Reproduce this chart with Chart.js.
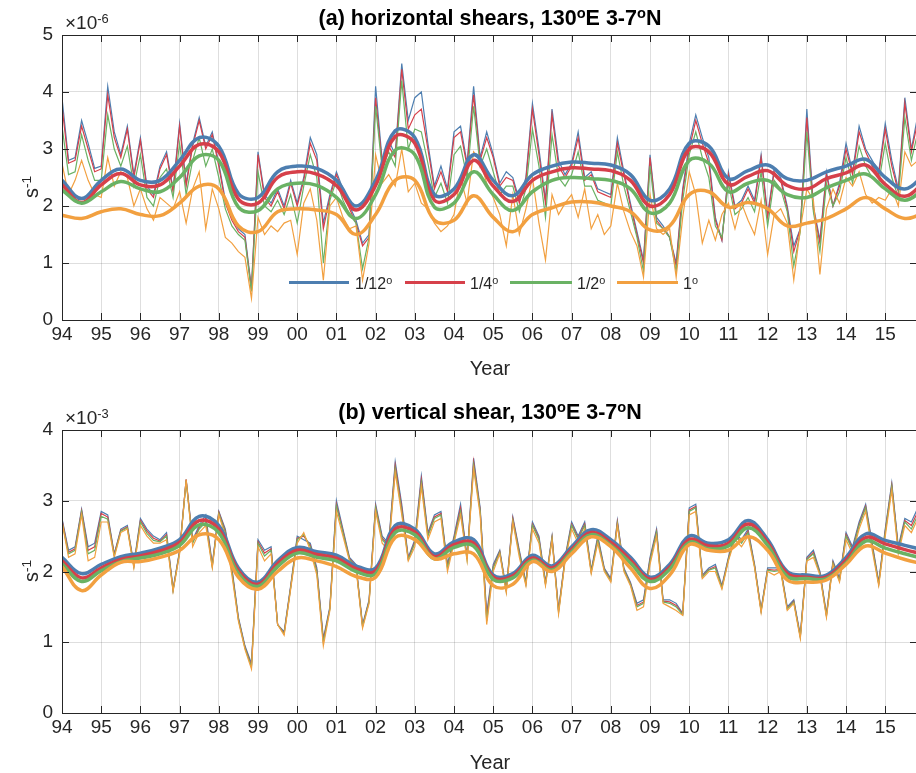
<!DOCTYPE html>
<html>
<head>
<meta charset="utf-8">
<script src="https://cdn.jsdelivr.net/npm/chart.js@4.4.1/dist/chart.umd.min.js"></script>
<style>
  html, body { margin: 0; padding: 0; background: #fff; }
  body { width: 916px; height: 773px; overflow: hidden; position: relative;
         font-family: 'Liberation Sans', Arial, sans-serif; color: #262626; }
  .panel { position: absolute; left: 0; width: 920px; }
  .ttl { position: absolute; transform: translateX(-50%); font-weight: bold; font-size: 21.5px; line-height: 22px; white-space: nowrap; color: #000; }
  .expo { position: absolute; font-size: 19px; line-height: 19px; white-space: nowrap; }
  .ylab { position: absolute; font-size: 20px; line-height: 20px; white-space: nowrap; transform: translate(-50%, -50%) rotate(-90deg); }
  .xlab { position: absolute; font-size: 20px; line-height: 20px; transform: translateX(-50%); }
  .lgline { position: absolute; height: 3px; }
  .lgtxt { position: absolute; font-size: 16px; line-height: 16px; white-space: nowrap; }
  sup { font-size: 0.68em; vertical-align: 0.5em; line-height: 0; }
</style>
</head>
<body>
<div class="panel" style="top:0; height:385px"><canvas id="chart-a" width="920" height="385"></canvas></div>
<div class="panel" style="top:394px; height:379px"><canvas id="chart-b" width="920" height="379"></canvas></div>

<div class="ttl" style="left:490px; top:7px">(a) horizontal shears, 130<sup>o</sup>E 3-7<sup>o</sup>N</div>
<div class="expo" style="left:65px; top:13px">&times;10<sup>-6</sup></div>
<div class="ylab" style="left:31px; top:187px">s<sup>-1</sup></div>
<div class="xlab" style="left:490px; top:358px">Year</div>

<div class="lgline" style="left:289px; top:281px; width:60px; background:#4d7eb0"></div>
<div class="lgtxt" style="left:355px; top:276px">1/12<sup>o</sup></div>
<div class="lgline" style="left:405px; top:281px; width:60px; background:#d6404a"></div>
<div class="lgtxt" style="left:470px; top:276px">1/4<sup>o</sup></div>
<div class="lgline" style="left:510px; top:281px; width:62px; background:#6ab264"></div>
<div class="lgtxt" style="left:577px; top:276px">1/2<sup>o</sup></div>
<div class="lgline" style="left:617px; top:281px; width:61px; background:#f2a040"></div>
<div class="lgtxt" style="left:683px; top:276px">1<sup>o</sup></div>

<div class="ttl" style="left:490px; top:401px">(b) vertical shear, 130<sup>o</sup>E 3-7<sup>o</sup>N</div>
<div class="expo" style="left:65px; top:408px">&times;10<sup>-3</sup></div>
<div class="ylab" style="left:31px; top:571px">s<sup>-1</sup></div>
<div class="xlab" style="left:490px; top:752px">Year</div>

<script>
// monthly-ish series are sampled every 2 months from Jan 1994, smooth curves every half year
const thinStart = 1994;
const thinStep = 1 / 6;
const smoothStart = 1994;
const smoothStep = 0.5;

const resolutions = ['1/12°', '1/4°', '1/2°', '1°'];
const colors = ['#4d7eb0', '#d6404a', '#6ab264', '#f2a040'];

const yearTicks = [1994, 1995, 1996, 1997, 1998, 1999, 2000, 2001, 2002, 2003, 2004,
                   2005, 2006, 2007, 2008, 2009, 2010, 2011, 2012, 2013, 2014, 2015];
const yearLabels = ['94', '95', '96', '97', '98', '99', '00', '01', '02', '03', '04',
                    '05', '06', '07', '08', '09', '10', '11', '12', '13', '14', '15'];

// (a) horizontal shears, units 1e-6 s^-1
const horiz12 = [3.9, 2.8, 2.85, 3.5, 3.1, 2.66, 2.7, 4.1, 3.3, 2.9, 3.4, 2.55, 3.2, 2.35, 2.2, 2.7, 2.95, 2.3, 3.45, 2.4, 3.1, 3.55, 3.05, 3.3, 2.75, 2.1, 1.8, 1.6, 1.5, 0.55, 2.95, 2.2, 2.05, 2.3,
  2.0, 2.45, 2.05, 2.5, 3.2, 2.9, 1.7, 2.2, 2.6, 2.3, 2.0, 1.75, 1.35, 1.5, 4.1, 2.8, 3.15, 2.9, 4.5, 3.5, 3.9, 4.0, 3.1, 2.35, 2.7, 2.3, 3.3, 3.4, 2.75, 4.1, 2.85, 3.3, 2.9,
  2.4, 2.6, 2.5, 2.1, 2.5, 3.8, 3.0, 2.1, 3.7, 2.8, 2.55, 2.75, 3.3, 2.5, 2.6, 2.3, 2.25, 2.2, 3.2, 2.6, 2.05, 1.55, 1.05, 2.9, 1.8, 1.65, 1.45, 1.0, 2.3, 3.1, 3.6, 3.2, 2.85,
  1.8, 1.4, 2.6, 2.0, 2.1, 2.35, 2.1, 2.9, 1.85, 2.65, 2.5, 2.0, 1.3, 1.6, 3.7, 2.0, 1.4, 2.6, 2.0, 2.4, 3.1, 2.6, 3.4, 3.0, 2.8, 2.6, 3.45, 2.8, 2.3, 3.9, 3.0, 3.6, 3.1];
const horiz4 = [3.75, 2.75, 2.8, 3.4, 3.0, 2.6, 2.65, 3.95, 3.2, 2.85, 3.35, 2.5, 3.15, 2.3, 2.15, 2.65, 2.9, 2.25, 3.4, 2.35, 3.05, 3.5, 3.0, 3.25, 2.7, 2.05, 1.75, 1.55, 1.45, 0.52, 2.9, 2.15, 2.0, 2.25,
  1.95, 2.4, 2.0, 2.45, 3.1, 2.8, 1.6, 2.15, 2.55, 2.25, 1.95, 1.7, 1.3, 1.45, 3.9, 2.75, 3.05, 2.85, 4.4, 3.35, 3.6, 3.7, 3.0, 2.3, 2.6, 2.25, 3.2, 3.3, 2.7, 3.95, 2.8, 3.2, 2.85,
  2.35, 2.5, 2.45, 2.05, 2.45, 3.7, 2.9, 2.05, 3.6, 2.7, 2.5, 2.7, 3.2, 2.45, 2.55, 2.25, 2.2, 2.15, 3.1, 2.55, 2.0, 1.5, 1.0, 2.85, 1.75, 1.6, 1.45, 0.95, 2.25, 3.0, 3.5, 3.1, 2.75,
  1.75, 1.4, 2.55, 1.95, 2.05, 2.3, 2.05, 2.85, 1.8, 2.6, 2.45, 1.95, 1.2, 1.6, 3.55, 1.95, 1.35, 2.55, 2.0, 2.35, 3.0, 2.55, 3.3, 2.95, 2.7, 2.55, 3.35, 2.7, 2.25, 3.8, 2.95, 3.5, 3.0];
const horiz2 = [3.4, 2.55, 2.6, 3.25, 2.8, 2.45, 2.45, 3.6, 3.0, 2.7, 3.05, 2.35, 2.9, 2.15, 2.0, 2.5, 2.65, 2.15, 3.1, 2.2, 2.8, 3.2, 2.7, 3.0, 2.5, 1.95, 1.65, 1.5, 1.4, 0.5, 2.6, 2.0, 1.9, 2.1,
  1.85, 2.2, 1.7, 2.35, 2.9, 2.5, 1.0, 2.1, 2.45, 2.1, 1.85, 1.7, 0.9, 1.45, 3.75, 2.65, 2.95, 2.7, 4.2, 3.0, 3.35, 3.3, 2.75, 2.15, 2.4, 2.05, 2.9, 3.05, 2.5, 3.75, 2.7, 3.0, 2.6,
  2.2, 2.35, 2.35, 1.9, 2.3, 3.35, 2.7, 1.8, 3.25, 2.5, 2.35, 2.55, 2.95, 2.35, 2.35, 2.1, 2.05, 2.0, 2.95, 2.35, 1.9, 1.45, 0.85, 2.7, 1.7, 1.6, 1.45, 0.85, 2.1, 2.9, 3.3, 2.85, 2.5,
  1.65, 1.45, 2.4, 1.85, 1.95, 2.15, 1.9, 2.6, 1.65, 2.45, 2.3, 1.9, 0.95, 1.55, 3.3, 1.9, 1.2, 2.4, 2.0, 2.25, 2.85, 2.4, 3.05, 2.7, 2.5, 2.4, 3.1, 2.5, 2.15, 3.55, 2.8, 3.3, 2.9];
const horiz1 = [2.75, 2.2, 2.45, 2.8, 2.45, 2.2, 2.15, 2.85, 2.35, 2.6, 2.5, 2.0, 2.3, 1.95, 1.75, 2.15, 2.05, 1.95, 2.25, 1.7, 2.3, 2.6, 1.6, 2.3, 1.95, 1.45, 1.35, 1.2, 1.1, 0.38, 1.8, 1.5, 1.65, 1.55,
  1.7, 1.75, 1.15, 2.05, 2.3, 1.75, 0.7, 2.0, 2.15, 1.8, 1.6, 1.65, 0.7, 1.35, 2.9, 2.4, 2.55, 2.35, 3.0, 2.25, 2.4, 2.05, 1.95, 1.7, 1.55, 1.65, 1.85, 2.5, 2.05, 2.95, 2.8, 2.4, 2.15,
  1.85, 1.3, 2.2, 1.5, 1.95, 2.5, 1.7, 1.05, 2.2, 1.85, 2.05, 2.2, 1.8, 2.3, 1.6, 1.85, 1.5, 1.65, 2.4, 1.9, 1.55, 1.3, 0.75, 2.2, 1.6, 1.5, 1.6, 0.75, 1.8, 2.6, 2.2, 1.35, 1.75,
  1.4, 1.85, 2.05, 1.6, 2.05, 1.75, 1.5, 2.1, 1.15, 1.85, 1.95, 1.7, 0.7, 1.6, 2.3, 2.1, 0.8, 1.95, 2.3, 2.05, 2.5, 2.35, 2.6, 2.2, 2.05, 2.15, 2.1, 2.3, 2.0, 2.95, 2.7, 2.8, 2.5];

const horizSmooth12 = [2.45, 2.13, 2.45, 2.65, 2.45, 2.45, 2.8, 3.2, 3.05, 2.22, 2.15, 2.6, 2.7, 2.66, 2.45, 2.0, 2.45, 3.32, 3.2, 2.2, 2.3, 2.9, 2.45, 2.18, 2.55, 2.7, 2.77, 2.75, 2.72, 2.55, 2.1, 2.3, 3.1, 3.05, 2.48, 2.62, 2.72, 2.48, 2.45, 2.6, 2.7, 2.82, 2.5, 2.3, 2.55];
const horizSmooth4 = [2.37, 2.06, 2.37, 2.57, 2.37, 2.37, 2.7, 3.08, 2.95, 2.12, 2.05, 2.5, 2.6, 2.56, 2.36, 1.93, 2.36, 3.22, 3.1, 2.1, 2.2, 2.8, 2.35, 2.08, 2.45, 2.6, 2.67, 2.65, 2.62, 2.45, 2.0, 2.2, 3.0, 2.95, 2.38, 2.52, 2.62, 2.36, 2.3, 2.48, 2.58, 2.72, 2.38, 2.17, 2.42];
const horizSmooth2 = [2.28, 2.05, 2.25, 2.43, 2.3, 2.25, 2.5, 2.88, 2.8, 1.98, 1.92, 2.3, 2.4, 2.36, 2.15, 1.78, 2.2, 2.98, 2.9, 1.98, 2.05, 2.6, 2.2, 1.92, 2.25, 2.45, 2.5, 2.48, 2.45, 2.3, 1.88, 2.05, 2.8, 2.75, 2.25, 2.4, 2.45, 2.2, 2.15, 2.32, 2.45, 2.56, 2.3, 2.1, 2.3];
const horizSmooth1 = [1.84, 1.78, 1.9, 1.95, 1.85, 1.83, 2.05, 2.35, 2.3, 1.65, 1.55, 1.9, 1.95, 1.93, 1.85, 1.5, 1.85, 2.45, 2.45, 1.75, 1.75, 2.18, 1.8, 1.55, 1.85, 1.97, 2.07, 2.07, 2.0, 1.9, 1.58, 1.65, 2.2, 2.25, 1.98, 2.06, 1.95, 1.65, 1.7, 1.78, 1.95, 2.15, 1.95, 1.78, 1.88];

// (b) vertical shear, units 1e-3 s^-1
const vert12 = [2.75, 2.3, 2.35, 2.88, 2.35, 2.4, 2.85, 2.8, 2.25, 2.6, 2.65, 2.1, 2.75, 2.6, 2.5, 2.45, 2.55, 1.75, 2.3, 3.3, 2.45, 2.65, 2.8, 2.1, 2.85, 2.6, 2.05, 1.35, 0.95, 0.7, 2.45, 2.3, 2.35, 1.25,
  1.15, 1.8, 2.5, 2.45, 2.4, 2.05, 1.05, 1.5, 3.0, 2.6, 2.2, 2.1, 1.25, 1.6, 2.95, 2.5, 2.4, 3.55, 2.95, 2.2, 2.45, 3.35, 2.55, 2.8, 2.85, 2.1, 2.5, 2.95, 2.2, 3.6, 2.9, 1.4, 2.1,
  2.3, 1.75, 2.77, 2.3, 1.85, 2.7, 2.5, 1.85, 2.5, 1.46, 2.2, 2.7, 2.5, 2.7, 2.02, 2.5, 2.05, 1.9, 2.72, 2.05, 1.85, 1.55, 1.6, 2.2, 2.6, 1.6, 1.6, 1.55, 1.41, 2.9, 2.95, 1.95, 2.05,
  2.1, 1.8, 2.2, 2.55, 2.45, 2.6, 2.1, 1.46, 2.05, 2.05, 2.05, 1.5, 1.6, 1.1, 2.2, 2.3, 2.0, 1.4, 2.15, 1.9, 2.55, 2.35, 2.7, 2.95, 2.4, 1.85, 2.6, 3.25, 2.35, 2.75, 2.7, 2.9, 2.6];
const vert4 = [2.73, 2.27, 2.32, 2.86, 2.3, 2.35, 2.82, 2.77, 2.24, 2.58, 2.63, 2.08, 2.72, 2.57, 2.47, 2.43, 2.52, 1.74, 2.28, 3.3, 2.42, 2.62, 2.75, 2.08, 2.84, 2.57, 2.02, 1.33, 0.93, 0.67, 2.42, 2.26, 2.32, 1.25,
  1.13, 1.78, 2.47, 2.5, 2.37, 2.02, 1.02, 1.48, 2.95, 2.57, 2.18, 2.08, 1.23, 1.58, 2.92, 2.47, 2.37, 3.5, 2.9, 2.18, 2.42, 3.3, 2.52, 2.77, 2.82, 2.07, 2.47, 2.9, 2.18, 3.55, 2.87, 1.35, 2.07,
  2.28, 1.73, 2.75, 2.27, 1.83, 2.67, 2.47, 1.83, 2.48, 1.44, 2.18, 2.67, 2.47, 2.67, 2.0, 2.47, 2.03, 1.88, 2.7, 2.03, 1.83, 1.52, 1.57, 2.17, 2.57, 1.58, 1.57, 1.52, 1.4, 2.87, 2.92, 1.93, 2.03,
  2.07, 1.78, 2.18, 2.52, 2.42, 2.57, 2.08, 1.45, 2.03, 2.02, 2.03, 1.48, 1.58, 1.08, 2.18, 2.27, 1.98, 1.38, 2.13, 1.88, 2.52, 2.32, 2.67, 2.92, 2.37, 1.83, 2.57, 3.22, 2.32, 2.72, 2.65, 2.85, 2.55];
const vert2 = [2.7, 2.25, 2.3, 2.84, 2.25, 2.3, 2.78, 2.74, 2.22, 2.57, 2.62, 2.07, 2.7, 2.54, 2.44, 2.42, 2.5, 1.73, 2.27, 3.28, 2.4, 2.6, 2.7, 2.07, 2.82, 2.55, 2.0, 1.32, 0.92, 0.65, 2.4, 2.22, 2.3, 1.25,
  1.12, 1.77, 2.45, 2.52, 2.35, 2.0, 1.0, 1.47, 2.92, 2.55, 2.17, 2.07, 1.22, 1.57, 2.9, 2.45, 2.35, 3.45, 2.85, 2.17, 2.4, 3.25, 2.5, 2.75, 2.8, 2.05, 2.45, 2.85, 2.17, 3.5, 2.85, 1.3, 2.05,
  2.27, 1.72, 2.72, 2.25, 1.82, 2.65, 2.45, 1.82, 2.47, 1.42, 2.17, 2.65, 2.45, 2.65, 1.99, 2.45, 2.02, 1.87, 2.68, 2.02, 1.82, 1.5, 1.55, 2.15, 2.55, 1.57, 1.55, 1.5, 1.39, 2.85, 2.9, 1.92, 2.02,
  2.05, 1.77, 2.17, 2.5, 2.4, 2.55, 2.07, 1.44, 2.02, 2.0, 2.02, 1.47, 1.57, 1.07, 2.17, 2.25, 1.97, 1.37, 2.12, 1.87, 2.5, 2.3, 2.65, 2.9, 2.35, 1.82, 2.55, 3.2, 2.3, 2.7, 2.6, 2.8, 2.5];
const vert1 = [2.7, 2.2, 2.25, 2.8, 2.15, 2.2, 2.7, 2.7, 2.2, 2.55, 2.6, 2.05, 2.65, 2.5, 2.4, 2.4, 2.45, 1.72, 2.25, 3.3, 2.35, 2.55, 2.65, 2.05, 2.8, 2.5, 1.95, 1.3, 0.9, 0.62, 2.35, 2.15, 2.25, 1.25,
  1.1, 1.75, 2.4, 2.55, 2.3, 1.95, 0.95, 1.45, 2.85, 2.5, 2.15, 2.05, 1.2, 1.55, 2.85, 2.4, 2.3, 3.4, 2.8, 2.15, 2.35, 3.2, 2.45, 2.7, 2.75, 2.0, 2.4, 2.8, 2.15, 3.45, 2.8, 1.25, 2.0,
  2.25, 1.7, 2.7, 2.2, 1.8, 2.6, 2.4, 1.8, 2.45, 1.4, 2.15, 2.6, 2.4, 2.6, 1.97, 2.4, 2.0, 1.85, 2.65, 2.0, 1.8, 1.45, 1.5, 2.1, 2.5, 1.55, 1.5, 1.45, 1.38, 2.8, 2.85, 1.9, 2.0,
  2.0, 1.75, 2.15, 2.45, 2.35, 2.5, 2.05, 1.42, 2.0, 1.95, 2.0, 1.45, 1.55, 1.05, 2.15, 2.2, 1.95, 1.35, 2.1, 1.85, 2.45, 2.25, 2.6, 2.85, 2.3, 1.8, 2.5, 3.15, 2.25, 2.65, 2.55, 2.75, 2.45];

const vertSmooth12 = [2.2, 1.97, 2.1, 2.21, 2.26, 2.33, 2.45, 2.78, 2.65, 2.05, 1.85, 2.15, 2.34, 2.28, 2.23, 2.08, 2.05, 2.65, 2.6, 2.25, 2.42, 2.45, 1.95, 1.97, 2.23, 2.08, 2.35, 2.59, 2.45, 2.2, 1.92, 2.1, 2.5, 2.4, 2.45, 2.72, 2.45, 2.0, 1.95, 1.95, 2.2, 2.53, 2.44, 2.37, 2.3];
const vertSmooth4 = [2.15, 1.91, 2.05, 2.17, 2.22, 2.29, 2.41, 2.72, 2.6, 2.01, 1.82, 2.11, 2.3, 2.24, 2.19, 2.04, 2.01, 2.6, 2.56, 2.21, 2.38, 2.4, 1.92, 1.94, 2.19, 2.05, 2.31, 2.55, 2.41, 2.16, 1.89, 2.06, 2.45, 2.36, 2.4, 2.67, 2.41, 1.97, 1.92, 1.92, 2.16, 2.48, 2.39, 2.31, 2.24];
const vertSmooth2 = [2.11, 1.86, 2.01, 2.14, 2.19, 2.25, 2.37, 2.66, 2.55, 1.97, 1.79, 2.07, 2.26, 2.2, 2.15, 2.0, 1.97, 2.55, 2.52, 2.18, 2.34, 2.36, 1.89, 1.91, 2.16, 2.02, 2.28, 2.52, 2.37, 2.12, 1.86, 2.03, 2.41, 2.32, 2.36, 2.62, 2.37, 1.93, 1.9, 1.9, 2.12, 2.43, 2.33, 2.25, 2.18];
const vertSmooth1 = [2.07, 1.73, 1.95, 2.13, 2.14, 2.2, 2.3, 2.52, 2.45, 1.92, 1.75, 2.0, 2.19, 2.15, 2.07, 1.93, 1.92, 2.48, 2.45, 2.18, 2.25, 2.25, 1.8, 1.82, 2.14, 2.0, 2.25, 2.49, 2.35, 2.05, 1.76, 1.95, 2.38, 2.3, 2.3, 2.49, 2.3, 1.88, 1.85, 1.88, 2.1, 2.36, 2.26, 2.17, 2.1];

const tickFont = { family: "'Liberation Sans', Arial, sans-serif", size: 19 };
const gridColor = 'rgba(0,0,0,0.13)';
const axisColor = '#262626';

// box round the axes with inward tick marks, like the original figure
const axesBox = {
    id: 'axesBox',
    afterDatasetsDraw(chart) {
        const { ctx, chartArea: a, scales } = chart;
        ctx.save();
        ctx.strokeStyle = axisColor;
        ctx.lineWidth = 1;
        ctx.beginPath();
        ctx.rect(Math.round(a.left) + 0.5, Math.round(a.top) + 0.5, Math.round(a.right - a.left), Math.round(a.bottom - a.top));
        for (const t of yearTicks) {
            const x = Math.round(scales.x.getPixelForValue(t)) + 0.5;
            ctx.moveTo(x, a.bottom); ctx.lineTo(x, a.bottom - 7);
            ctx.moveTo(x, a.top); ctx.lineTo(x, a.top + 7);
        }
        for (const t of scales.y.ticks) {
            const y = Math.round(scales.y.getPixelForValue(t.value)) + 0.5;
            ctx.moveTo(a.left, y); ctx.lineTo(a.left + 7, y);
            ctx.moveTo(a.right, y); ctx.lineTo(a.right - 7, y);
        }
        ctx.stroke();
        ctx.restore();
    }
};

const toPoints = (values, start, step) => values.map((v, i) => ({ x: start + i * step, y: v }));

const buildChart = (canvasId, thinSeries, smoothSeries, yMax, padTop, xHeight) => {
    const datasets = [];
    thinSeries.forEach((values, k) => {
        datasets.push({
            label: resolutions[k] + ' monthly',
            data: toPoints(values, thinStart, thinStep),
            borderColor: colors[k],
            borderWidth: 1.2,
            pointRadius: 0,
            tension: 0,
            order: 8 - k
        });
    });
    smoothSeries.forEach((values, k) => {
        datasets.push({
            label: resolutions[k],
            data: toPoints(values, smoothStart, smoothStep),
            borderColor: colors[k],
            borderWidth: 3.5,
            pointRadius: 0,
            tension: 0.4,
            order: 4 - k
        });
    });

    return new Chart(document.getElementById(canvasId), {
        type: 'line',
        data: { datasets },
        plugins: [axesBox],
        options: {
            responsive: false,
            animation: false,
            devicePixelRatio: 1,
            layout: { padding: { top: padTop, right: 3, left: 0, bottom: 0 } },
            plugins: { legend: { display: false }, tooltip: { enabled: false } },
            scales: {
                x: {
                    type: 'linear',
                    min: 1994,
                    max: 2015.81,
                    afterFit: (scale) => { scale.height = xHeight; },
                    afterBuildTicks: (scale) => { scale.ticks = yearTicks.map(v => ({ value: v })); },
                    ticks: {
                        autoSkip: false,
                        maxRotation: 0,
                        padding: 3,
                        color: axisColor,
                        font: tickFont,
                        callback: (v) => {
                            const i = yearTicks.indexOf(v);
                            return i >= 0 ? yearLabels[i] : '';
                        }
                    },
                    grid: { color: gridColor, drawTicks: false },
                    border: { display: false }
                },
                y: {
                    min: 0,
                    max: yMax,
                    afterFit: (scale) => { scale.width = 62; },
                    ticks: { stepSize: 1, padding: 9, color: axisColor, font: tickFont },
                    grid: { color: gridColor, drawTicks: false },
                    border: { display: false }
                }
            }
        }
    });
};

buildChart('chart-a', [horiz12, horiz4, horiz2, horiz1],
           [horizSmooth12, horizSmooth4, horizSmooth2, horizSmooth1], 5, 35, 65);
buildChart('chart-b', [vert12, vert4, vert2, vert1],
           [vertSmooth12, vertSmooth4, vertSmooth2, vertSmooth1], 4, 36, 60);
</script>
</body>
</html>
